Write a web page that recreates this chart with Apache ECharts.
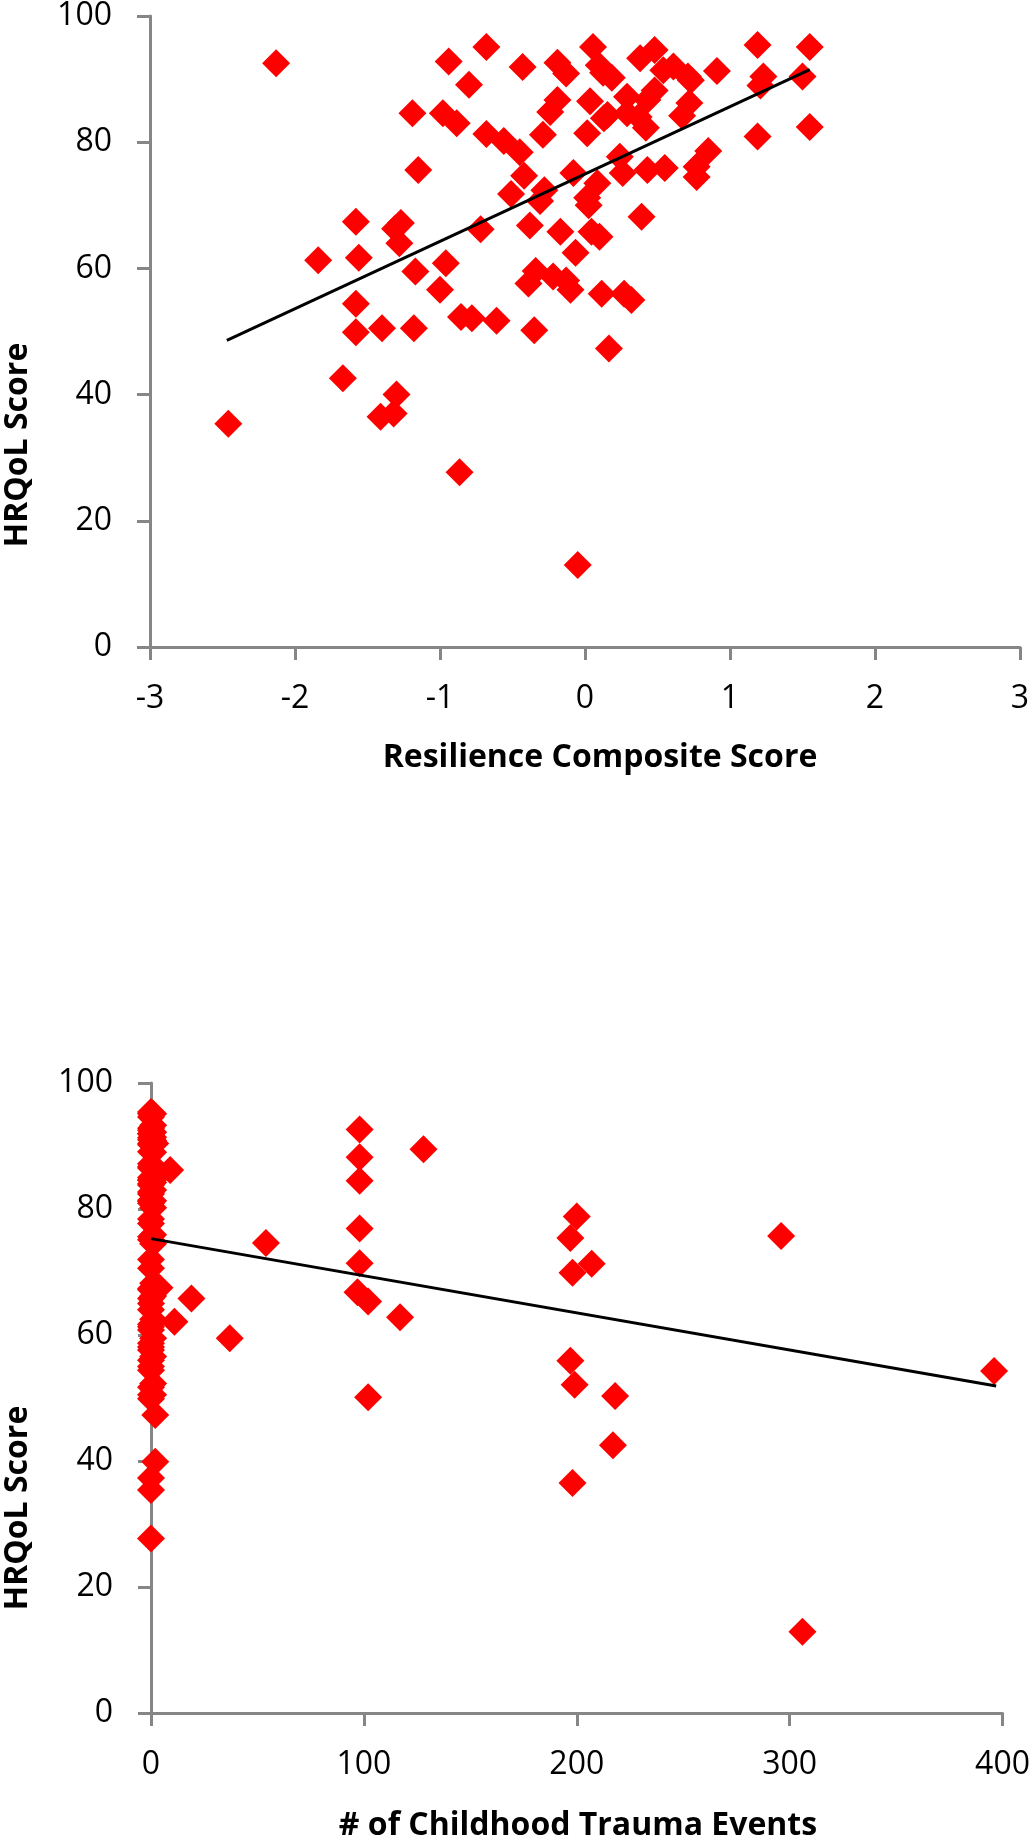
<!DOCTYPE html>
<html>
<head>
<meta charset="utf-8">
<script src="https://cdn.jsdelivr.net/npm/echarts@6/dist/echarts.min.js"></script>
<style>
html,body{margin:0;padding:0;background:#fff;}
#chart{width:1033px;height:1841px;}
</style>
</head>
<body>
<div id="chart"></div>
<script>
// ---- Data ----
const yAxisTitle = 'HRQoL Score';
const topXTitle = 'Resilience Composite Score';
const bottomXTitle = '# of Childhood Trauma Events';

// Resilience composite score vs HRQoL score
const resiliencePoints = [
  [-2.46,35.4],[-2.13,92.5],[-1.84,61.3],[-1.67,42.6],[-1.58,67.4],[-1.56,61.7],[-1.58,54.4],[-1.58,49.9],
  [-1.40,50.5],[-1.41,36.5],[-1.32,37.0],[-1.30,40.0],[-1.27,67.2],[-1.31,66.3],[-1.28,64.0],[-1.19,84.6],
  [-1.15,75.6],[-1.17,59.5],[-1.18,50.5],[-0.98,84.6],[-0.94,92.8],[-0.96,60.8],[-1.00,56.6],[-0.885,83.0],
  [-0.865,27.7],[-0.855,52.3],[-0.80,89.1],[-0.78,52.1],[-0.72,66.2],[-0.68,95.1],[-0.68,81.3],[-0.61,51.7],
  [-0.56,80.2],[-0.51,71.8],[-0.45,78.4],[-0.43,91.9],[-0.42,74.7],[-0.38,66.8],[-0.39,57.6],[-0.34,59.6],
  [-0.35,50.2],[-0.31,70.7],[-0.28,72.4],[-0.29,81.2],[-0.24,84.8],[-0.19,92.6],[-0.19,86.7],[-0.22,58.7],
  [-0.17,65.8],[-0.13,58.1],[-0.13,90.9],[-0.10,56.6],[-0.08,75.1],[-0.065,62.5],[-0.05,13.0],[0.015,81.4],
  [0.015,71.2],[0.025,70.0],[0.035,86.5],[0.045,65.8],[0.055,95.1],[0.085,73.5],[0.095,92.2],[0.10,65.0],
  [0.115,56.0],[0.13,83.8],[0.125,91.0],[0.185,90.2],[0.155,84.3],[0.165,47.3],[0.24,77.7],[0.26,75.1],
  [0.27,56.0],[0.32,55.0],[0.29,87.2],[0.29,84.6],[0.38,93.3],[0.37,84.0],[0.39,68.2],[0.43,75.6],
  [0.42,82.3],[0.48,94.6],[0.48,88.2],[0.43,86.7],[0.54,91.4],[0.55,75.9],[0.61,92.0],[0.67,84.2],
  [0.72,86.2],[0.71,90.4],[0.73,89.8],[0.77,76.1],[0.77,74.5],[0.85,78.6],[0.91,91.3],[1.19,95.4],
  [1.23,90.4],[1.21,89.0],[1.19,80.9],[1.55,95.1],[1.50,90.4],[1.55,82.4]
];
const resilienceTrend = [[-2.47,48.6],[1.55,91.5]];

// Number of childhood trauma events vs HRQoL score
const traumaPoints = [
  // stack near zero events
  [0,95.4],[1,95.1],[0,95.1],[0,94.6],[1,93.3],[0,92.8],[0,92.5],[1,92.2],[0,92.0],[0,91.9],
  [1,91.4],[0,91.3],[0,91.0],[1,90.9],[0,90.4],[2,90.4],[0,90.2],[0,89.1],[1,89.0],[0,87.2],
  [0,86.7],[1,86.7],[0,86.5],[0,85.0],[1,84.6],[0,84.6],[0,84.6],[1,84.2],[0,84.0],[0,83.8],
  [1,83.0],[0,82.7],[0,82.4],[0,81.4],[1,81.3],[0,81.2],[0,80.9],[1,80.2],[0,78.4],[0,77.7],
  [1,75.9],[0,75.6],[0,75.1],[1,74.5],[0,72.0],[0,70.6],[1,68.2],[0,67.4],[0,67.2],[1,66.2],
  [0,65.8],[0,65.0],[0,64.0],[1,62.5],[0,61.7],[0,61.3],[0,60.8],[1,59.5],[0,58.7],[0,58.1],
  [0,57.6],[1,56.6],[0,56.0],[0,55.0],[0,54.4],[1,52.3],[0,51.7],[0,50.5],[1,50.5],[0,49.9],
  [2,47.3],[0,37.3],[0,35.4],[0,27.7],
  // other counts
  [4,67.5],[2,39.9],[9,86.2],[11,62.1],[19,65.8],[37,59.5],[54,74.6],
  [98,92.6],[98,88.2],[98,84.5],[98,76.9],[98,71.4],[97,66.8],[102,65.3],[102,50.1],
  [117,62.8],[128,89.5],
  [200,78.8],[197,75.4],[198,69.9],[207,71.3],[197,55.9],[199,52.1],[218,50.3],[217,42.5],[198,36.5],
  [296,75.7],[306,12.9],[396,54.3]
];
const traumaTrend = [[0,75.3],[397,51.9]];

// ---- Chart ----
const chart = echarts.init(document.getElementById('chart'), null, {renderer:'canvas'});
const axisGray = '#868686';
const labelFont = {fontFamily:'Open Sans', fontSize:32, color:'#000'};

function xAx(gi, min, max, interval){
  return {
    gridIndex:gi, type:'value', min:min, max:max, interval:interval,
    axisLine:{show:true, onZero:false, lineStyle:{color:axisGray, width:3}},
    axisTick:{show:true, length:13, lineStyle:{color:axisGray, width:3}},
    splitLine:{show:false},
    axisLabel:Object.assign({margin:36, showMinLabel:true, showMaxLabel:true}, labelFont)
  };
}
function yAx(gi){
  return {
    gridIndex:gi, type:'value', min:0, max:100, interval:20,
    axisLine:{show:true, onZero:false, lineStyle:{color:axisGray, width:3}},
    axisTick:{show:true, length:13, lineStyle:{color:axisGray, width:3}},
    splitLine:{show:false},
    axisLabel:Object.assign({margin:38, showMinLabel:true, showMaxLabel:true}, labelFont)
  };
}

const titleStyle = {fontFamily:'Open Sans', fontSize:32, fontWeight:'bold', fill:'#000',
                    textAlign:'center', textVerticalAlign:'middle'};

const option = {
  animation:false,
  backgroundColor:'#fff',
  grid:[
    {left:150, top:16, width:870, height:631},
    {left:151, top:1083, width:854, height:630}
  ],
  xAxis:[ xAx(0,-3,3,1), xAx(1,0,400,100) ],
  yAxis:[ yAx(0), yAx(1) ],
  series:[
    {type:'scatter', xAxisIndex:0, yAxisIndex:0, data:resiliencePoints,
     symbol:'diamond', symbolSize:28, itemStyle:{color:'#ff0000', opacity:1}, z:2},
    {type:'line', xAxisIndex:0, yAxisIndex:0, data:resilienceTrend, showSymbol:false,
     symbol:'none', lineStyle:{color:'#000', width:3}, z:3},
    {type:'scatter', xAxisIndex:1, yAxisIndex:1, data:traumaPoints,
     symbol:'diamond', symbolSize:28, itemStyle:{color:'#ff0000', opacity:1}, z:2},
    {type:'line', xAxisIndex:1, yAxisIndex:1, data:traumaTrend, showSymbol:false,
     symbol:'none', lineStyle:{color:'#000', width:3}, z:3}
  ],
  graphic:[
    {type:'text', x:600, y:758, style:Object.assign({text:topXTitle}, titleStyle)},
    {type:'text', x:18, y:445, rotation:Math.PI/2, style:Object.assign({text:yAxisTitle}, titleStyle)},
    {type:'text', x:578, y:1826, style:Object.assign({text:bottomXTitle}, titleStyle)},
    {type:'text', x:18, y:1508, rotation:Math.PI/2, style:Object.assign({text:yAxisTitle}, titleStyle)}
  ]
};
chart.setOption(option);
</script>
</body>
</html>
